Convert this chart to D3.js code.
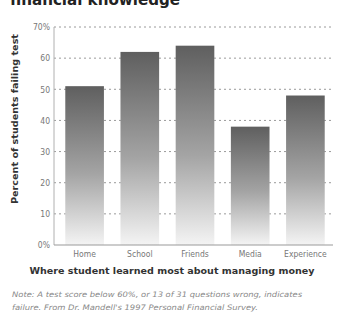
<!DOCTYPE html>
<html>
<head>
<meta charset="utf-8">
<script src="https://cdn.jsdelivr.net/npm/d3@7/dist/d3.min.js"></script>
<style>
  html, body { margin: 0; padding: 0; background: #fff; }
  svg { display: block; }
  text { font-family: "DejaVu Sans Condensed", "Liberation Sans Narrow", "Liberation Sans", sans-serif; }
</style>
</head>
<body>
<div id="chart"></div>
<script>
// Where students learned most about money, and share failing the test
const categories = ["Home", "School", "Friends", "Media", "Experience"];
const failingPct = [51, 62, 64, 38, 48];
const yTicks = [0, 10, 20, 30, 40, 50, 60, 70];
const yTickLabels = ["0%", "10", "20", "30", "40", "50", "60", "70%"];
const noteLines = [
  "Note: A test score below 60%, or 13 of 31 questions wrong, indicates",
  "failure. From Dr. Mandell's 1997 Personal Financial Survey."
];

const W = 338, H = 334;
const plotLeft = 54, plotRight = 333, plotTop = 27, plotBottom = 245;

const svg = d3.select("#chart").append("svg")
  .attr("width", W).attr("height", H);

const defs = svg.append("defs");
const grad = defs.append("linearGradient")
  .attr("id", "barFill").attr("x1", 0).attr("y1", 0).attr("x2", 0).attr("y2", 1);
grad.append("stop").attr("offset", "0%").attr("stop-color", "#5f5f5f");
grad.append("stop").attr("offset", "55%").attr("stop-color", "#a4a4a4");
grad.append("stop").attr("offset", "100%").attr("stop-color", "#f4f4f4");

const x = d3.scaleBand().domain(categories).range([57, plotRight])
  .paddingInner(0.3).paddingOuter(0.15);
const y = d3.scaleLinear().domain([0, 70]).range([plotBottom, plotTop]);

// Title (top of the headline runs off the page)
svg.append("text")
  .attr("x", 10).attr("y", 5)
  .attr("font-size", 15).attr("font-weight", "bold").attr("fill", "#222")
  .attr("textLength", 170).attr("lengthAdjust", "spacingAndGlyphs")
  .text("financial knowledge");

// Dashed gridlines
svg.append("g").selectAll("line")
  .data(yTicks.filter(d => d > 0))
  .join("line")
  .attr("x1", plotLeft).attr("x2", plotRight)
  .attr("y1", d => y(d)).attr("y2", d => y(d))
  .attr("stroke", "#9a9a9a").attr("stroke-width", 1)
  .attr("stroke-dasharray", "2,3");

// Bars
svg.append("g").selectAll("rect")
  .data(categories)
  .join("rect")
  .attr("x", d => x(d))
  .attr("width", x.bandwidth())
  .attr("y", (d, i) => y(failingPct[i]))
  .attr("height", (d, i) => y(0) - y(failingPct[i]))
  .attr("fill", "url(#barFill)");

// Axes lines
svg.append("line")
  .attr("x1", plotLeft).attr("x2", plotLeft).attr("y1", plotTop).attr("y2", plotBottom)
  .attr("stroke", "#b0b0b0").attr("stroke-width", 1);
svg.append("line")
  .attr("x1", plotLeft).attr("x2", plotRight).attr("y1", plotBottom).attr("y2", plotBottom)
  .attr("stroke", "#999").attr("stroke-width", 1.2);

// Y tick labels
const yAxis = d3.axisLeft(y).tickValues(yTicks)
  .tickFormat((d, i) => yTickLabels[i]).tickSize(0).tickPadding(4);
const gy = svg.append("g").attr("transform", `translate(${plotLeft},0)`).call(yAxis);
gy.select(".domain").remove();
gy.selectAll("text").attr("font-size", 8.5).attr("fill", "#777")
  .style("font-family", "'DejaVu Sans Condensed', sans-serif");

// X tick labels
const xAxis = d3.axisBottom(x).tickSize(0).tickPadding(6);
const gx = svg.append("g").attr("transform", `translate(0,${plotBottom})`).call(xAxis);
gx.select(".domain").remove();
gx.selectAll("text").attr("font-size", 8.5).attr("fill", "#777")
  .style("font-family", "'DejaVu Sans Condensed', sans-serif");

// Axis titles
svg.append("text")
  .attr("x", 172).attr("y", 274).attr("text-anchor", "middle")
  .attr("font-size", 9.5).attr("font-weight", "bold").attr("fill", "#333")
  .attr("textLength", 285).attr("lengthAdjust", "spacingAndGlyphs")
  .text("Where student learned most about managing money");

svg.append("text")
  .attr("transform", "translate(18,119) rotate(-90)")
  .attr("text-anchor", "middle")
  .attr("font-size", 8.5).attr("font-weight", "bold").attr("fill", "#333")
  .attr("textLength", 170).attr("lengthAdjust", "spacingAndGlyphs")
  .text("Percent of students failing test");

// Footnote
const noteLens = [290, 246];
svg.append("g").selectAll("text")
  .data(noteLines)
  .join("text")
  .attr("x", 12).attr("y", (d, i) => 297 + i * 13)
  .attr("font-size", 7.5).attr("font-style", "italic").attr("fill", "#888")
  .attr("textLength", (d, i) => noteLens[i]).attr("lengthAdjust", "spacingAndGlyphs")
  .text(d => d);
</script>
</body>
</html>
